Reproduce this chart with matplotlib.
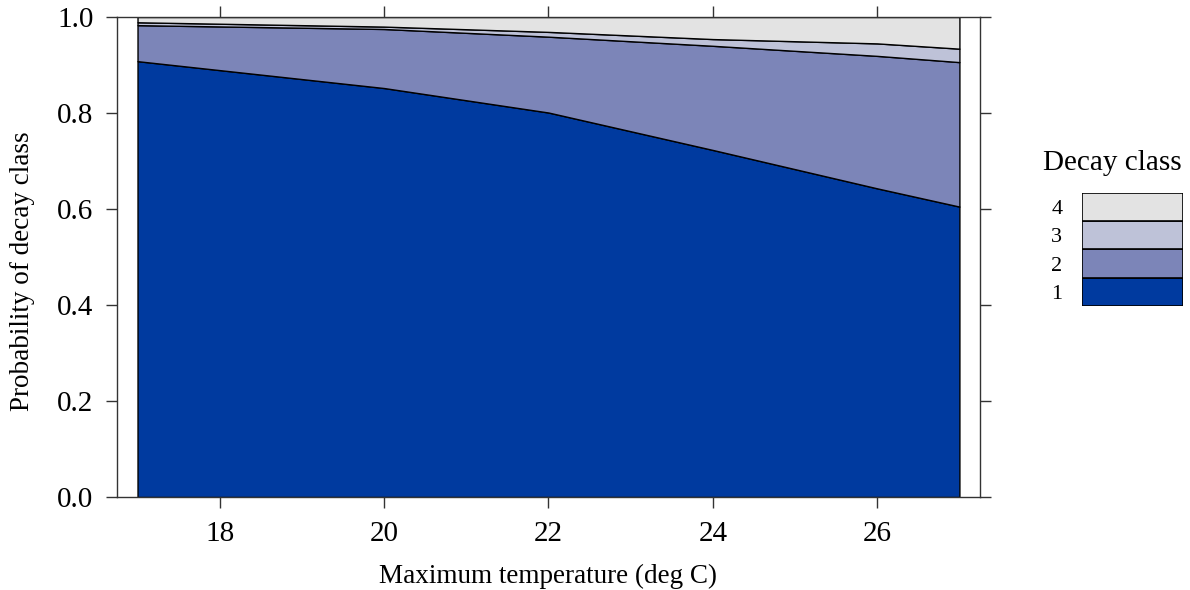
import numpy as np
import matplotlib
matplotlib.use('Agg')
import matplotlib.pyplot as plt

plt.rcParams['font.family'] = ['Liberation Serif', 'DejaVu Serif']

# predicted probability of each decay class along max temperature
temp = [17, 20, 22, 24, 26, 27]
p_class1 = [0.908, 0.852, 0.801, 0.723, 0.643, 0.605]
p_class2 = [0.075, 0.123, 0.158, 0.217, 0.276, 0.301]
p_class3 = [0.006, 0.005, 0.010, 0.014, 0.026, 0.028]
p_class4 = [0.011, 0.020, 0.031, 0.046, 0.055, 0.066]

classes = ['1', '2', '3', '4']
colors = ['#003a9f', '#7c85b8', '#bec2d8', '#e3e3e3']

probs = np.array([p_class1, p_class2, p_class3, p_class4])
cum = np.vstack([np.zeros(len(temp)), np.cumsum(probs, axis=0)])

fig = plt.figure(figsize=(11.9, 5.9), dpi=100)
ax = fig.add_axes([0.0983, 0.1576, 0.7252, 0.8136])

for i in range(4):
    ax.fill_between(temp, cum[i], cum[i + 1], facecolor=colors[i],
                    edgecolor='black', linewidth=1.0)

ax.set_xlim(16.75, 27.25)
ax.set_ylim(0, 1)
ax.set_xticks([18, 20, 22, 24, 26])
ax.set_yticks([0.0, 0.2, 0.4, 0.6, 0.8, 1.0])
ax.set_yticklabels(['0.0', '0.2', '0.4', '0.6', '0.8', '1.0'])
ax.tick_params(direction='out', length=8, width=1.0, labelsize=21,
               top=True, right=True, pad=9, color='#333333')
for s in ax.spines.values():
    s.set_linewidth(1.0)
    s.set_color('#333333')

ax.set_xlabel('Maximum temperature (deg C)', fontsize=19.5)
ax.xaxis.label.set_va('center')
ax.xaxis.set_label_coords(0.5, -0.165)
ax.set_ylabel('Probability of decay class', fontsize=19.5)
ax.yaxis.label.set_va('center')
ax.yaxis.set_label_coords(-0.11, 0.47)

# legend key: stacked boxes
lax = fig.add_axes([0.909, 0.4814, 0.085, 0.1915])
lax.barh(range(4), [1] * 4, height=1.0, color=colors, edgecolor='black',
         linewidth=1.2)
lax.set_xlim(0, 1)
lax.set_ylim(-0.5, 3.5)
lax.set_yticks(range(4))
lax.set_yticklabels(classes, fontsize=16)
lax.tick_params(length=0, pad=14, bottom=False, labelbottom=False)
for s in lax.spines.values():
    s.set_visible(False)
fig.text(0.9345, 0.724, 'Decay class', fontsize=21, ha='center', va='center')

plt.savefig('out.png', dpi=100)
